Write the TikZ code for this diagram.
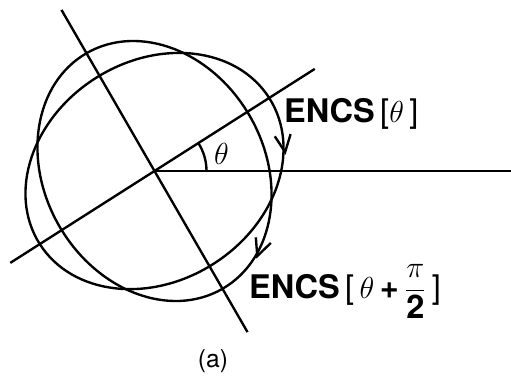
\documentclass[tikz,border=0pt]{standalone}
\usepackage{fontspec}
\setmainfont{TeX Gyre Heros}
\usepackage{amsmath}
\usetikzlibrary{arrows.meta, calc, decorations.markings}

\begin{document}
\begin{tikzpicture}[
    line width=1.35pt,
    >={Straight Barb[length=3.4mm,width=3.2mm]},
    curve/.style={line width=1.35pt},
    tag/.style={font=\fontsize{18.5}{20}\selectfont\bfseries, inner sep=0pt, anchor=base west}
  ]
  \useasboundingbox (0,0) rectangle (10.22,7.64);

  % centre and axes
  \coordinate (O) at (3.09,4.22);
  \coordinate (xend) at (10.22,4.22);
  \coordinate (ua) at ($(O)+(32.5:3.8)$);
  \coordinate (ub) at ($(O)+(212.5:3.42)$);
  \coordinate (va) at ($(O)+(120:3.72)$);
  \coordinate (vb) at ($(O)+(300:3.72)$);
  \draw (O) -- (xend);
  \draw (ub) -- (ua);
  \draw (va) -- (vb);

  % angle
  \draw (O) ++(1.04,0) arc (0:32.5:1.04);
  \node[font=\fontsize{18}{20}\selectfont] (th) at ($(O)+(14:1.38)$) {$\theta$};

  % the two curves
  \draw[curve, rotate around={32.5:(O)},
    postaction={decorate, decoration={markings, mark=at position 0.95 with {\arrow{<}}}}]
    (O) ellipse (2.72 and 2.2);
  \draw[curve, rotate around={120:(O)},
    postaction={decorate, decoration={markings, mark=at position 0.585 with {\arrow{<}}}}]
    (O) ellipse (2.72 and 2.2);

  % labels
  \node[tag] (enc1) at (5.66,5.2) {ENCS\,{\mdseries[}$\theta$\,{\mdseries]}};
  \node[tag] (enc2) at (4.96,1.68) {ENCS\,{\mdseries[}\,$\theta$\,+\,$\dfrac{\pi}{\mbox{\bfseries 2}}$\,{\mdseries]}};
  \node[font=\fontsize{14}{16}\selectfont] (cap) at (4.26,0.41) {(a)};
\end{tikzpicture}
\end{document}
